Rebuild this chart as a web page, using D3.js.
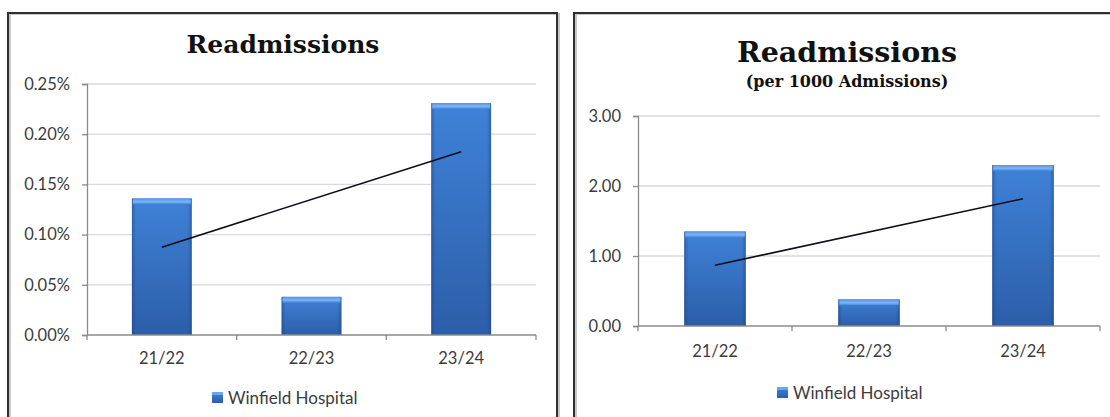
<!DOCTYPE html>
<html>
<head>
<meta charset="utf-8">
<script src="https://cdn.jsdelivr.net/npm/d3@7/dist/d3.min.js"></script>
<style>
  html, body { margin: 0; padding: 0; background: #fff; }
  svg { display: block; }
</style>
</head>
<body>
<svg id="chart" width="1110" height="417"></svg>
<script>
// Readmissions at Winfield Hospital, shown two ways side by side.
const categories = ["21/22", "22/23", "23/24"];
const seriesName = "Winfield Hospital";

// Readmission rate as a share of admissions (percent)
const readmitPct = [0.136, 0.038, 0.231];
const pctTicks = [0, 0.05, 0.10, 0.15, 0.20, 0.25];
const pctTickLabels = ["0.00%", "0.05%", "0.10%", "0.15%", "0.20%", "0.25%"];

// Readmissions per 1000 admissions
const readmitPer1000 = [1.35, 0.38, 2.30];
const rateTicks = [0, 1, 2, 3];
const rateTickLabels = ["0.00", "1.00", "2.00", "3.00"];

const svg = d3.select("#chart");
const defs = svg.append("defs");

// Excel-style bevelled blue bar fill
const vGrad = defs.append("linearGradient").attr("id", "barV")
  .attr("x1", 0).attr("y1", 0).attr("x2", 0).attr("y2", 1);
vGrad.append("stop").attr("offset", "0%").attr("stop-color", "#3f82d8");
vGrad.append("stop").attr("offset", "100%").attr("stop-color", "#2c5ea8");

const hGrad = defs.append("linearGradient").attr("id", "barH")
  .attr("x1", 0).attr("y1", 0).attr("x2", 1).attr("y2", 0);
hGrad.append("stop").attr("offset", "0%").attr("stop-color", "#1d3f73").attr("stop-opacity", 0.45);
hGrad.append("stop").attr("offset", "7%").attr("stop-color", "#1d3f73").attr("stop-opacity", 0.0);
hGrad.append("stop").attr("offset", "93%").attr("stop-color", "#1d3f73").attr("stop-opacity", 0.0);
hGrad.append("stop").attr("offset", "100%").attr("stop-color", "#1d3f73").attr("stop-opacity", 0.45);

const capGrad = defs.append("linearGradient").attr("id", "barCap")
  .attr("x1", 0).attr("y1", 0).attr("x2", 0).attr("y2", 1);
capGrad.append("stop").attr("offset", "0%").attr("stop-color", "#4f93e6");
capGrad.append("stop").attr("offset", "55%").attr("stop-color", "#7cb6f5");
capGrad.append("stop").attr("offset", "100%").attr("stop-color", "#3f82d8");

const TEXT = "#3c3c3c";
const SANS = "Lato, 'Open Sans', sans-serif";
const SERIF = "'DejaVu Serif', serif";

// Panel frames (open at the bottom, with a soft shadow edge)
function frame(left, right, top) {
  const g = svg.append("g");
  const pathD = right == null
    ? `M${left},417 V${top} H1110`
    : `M${left},417 V${top} H${right} V417`;
  g.append("path").attr("d", pathD).attr("transform", "translate(2,1)")
    .attr("fill", "none").attr("stroke", "#c8c8c8").attr("stroke-width", 2);
  g.append("path").attr("d", pathD)
    .attr("fill", "none").attr("stroke", "#2e2e2e").attr("stroke-width", 2);
}
frame(8, 557, 13);
frame(574, null, 13);

function drawChart(cfg) {
  const g = svg.append("g");

  const x = d3.scaleBand().domain(categories)
    .range([cfg.x0, cfg.x1]).paddingInner(0.6).paddingOuter(0.3);
  const xCat = d3.scaleBand().domain(categories).range([cfg.x0, cfg.x1]).padding(0);
  const y = d3.scaleLinear().domain([cfg.ticks[0], cfg.ticks[cfg.ticks.length - 1]])
    .range([cfg.yBottom, cfg.yTop]);

  // Titles
  g.append("text").attr("x", cfg.titleX).attr("y", cfg.titleY)
    .attr("text-anchor", "middle").attr("font-family", SERIF)
    .attr("font-weight", "bold").attr("font-size", cfg.titleSize)
    .attr("fill", "#111").text("Readmissions");
  if (cfg.subtitle) {
    g.append("text").attr("x", cfg.titleX).attr("y", cfg.subtitleY)
      .attr("text-anchor", "middle").attr("font-family", SERIF)
      .attr("font-weight", "bold").attr("font-size", cfg.subtitleSize)
      .attr("fill", "#111").text(cfg.subtitle);
  }

  // Horizontal gridlines
  g.append("g").selectAll("line")
    .data(cfg.ticks.filter(t => t !== 0))
    .join("line")
    .attr("x1", cfg.x0).attr("x2", cfg.x1)
    .attr("y1", d => y(d)).attr("y2", d => y(d))
    .attr("stroke", "#d9d9d9").attr("stroke-width", 1.3);

  // Value axis
  const yAxis = d3.axisLeft(y).tickValues(cfg.ticks).tickSize(5).tickPadding(cfg.tickPad)
    .tickFormat((d, i) => cfg.tickLabels[i]);
  const ya = g.append("g").attr("transform", `translate(${cfg.x0},0)`).call(yAxis);
  ya.select(".domain").attr("stroke", "#8a8a8a").attr("stroke-width", 1.3);
  ya.selectAll(".tick line").attr("stroke", "#8a8a8a").attr("stroke-width", 1.3);
  ya.selectAll(".tick text").attr("font-family", SANS).attr("font-size", cfg.fontSize)
    .attr("fill", TEXT);

  // Bars
  const bars = g.append("g");
  categories.forEach((c, i) => {
    const v = cfg.values[i];
    const bx = x(c), bw = x.bandwidth(), by = y(v), bh = y(0) - y(v);
    bars.append("rect").attr("x", bx).attr("y", by).attr("width", bw).attr("height", bh)
      .attr("fill", "url(#barV)");
    bars.append("rect").attr("x", bx).attr("y", by).attr("width", bw).attr("height", bh)
      .attr("fill", "url(#barH)");
    bars.append("rect").attr("x", bx + 1).attr("y", by).attr("width", bw - 2).attr("height", 6)
      .attr("fill", "url(#barCap)");
  });

  // Category axis with boundary tick marks
  const xa = g.append("g");
  xa.append("line").attr("x1", cfg.x0).attr("x2", cfg.x1)
    .attr("y1", y(0)).attr("y2", y(0))
    .attr("stroke", "#8a8a8a").attr("stroke-width", 1.3);
  const bounds = categories.map(c => xCat(c)).concat([xCat(categories[categories.length - 1]) + xCat.bandwidth()]);
  xa.selectAll("line.tk").data(bounds).join("line").attr("class", "tk")
    .attr("x1", d => d).attr("x2", d => d)
    .attr("y1", y(0)).attr("y2", y(0) + 5)
    .attr("stroke", "#8a8a8a").attr("stroke-width", 1.3);
  xa.selectAll("text").data(categories).join("text")
    .attr("x", d => xCat(d) + xCat.bandwidth() / 2)
    .attr("y", y(0) + cfg.catLabelOffset)
    .attr("text-anchor", "middle").attr("font-family", SANS)
    .attr("font-size", cfg.fontSize).attr("fill", TEXT).text(d => d);

  // Linear trendline (least squares over category index)
  const n = cfg.values.length;
  const idx = d3.range(1, n + 1);
  const mx = d3.mean(idx), my = d3.mean(cfg.values);
  const slope = d3.sum(idx.map((k, i) => (k - mx) * (cfg.values[i] - my))) /
                d3.sum(idx.map(k => (k - mx) * (k - mx)));
  const icpt = my - slope * mx;
  const trend = categories.map((c, i) => [xCat(c) + xCat.bandwidth() / 2, y(icpt + slope * (i + 1))]);
  g.append("path")
    .attr("d", d3.line()([trend[0], trend[n - 1]]))
    .attr("fill", "none").attr("stroke", "#0d0d1a").attr("stroke-width", 1.6);

  // Legend
  const lg = g.append("g").attr("transform", `translate(${cfg.legendX},${cfg.legendY})`);
  lg.append("rect").attr("x", 0).attr("y", -6).attr("width", 11).attr("height", 11)
    .attr("fill", "url(#barV)");
  lg.append("rect").attr("x", 0).attr("y", -6).attr("width", 11).attr("height", 3)
    .attr("fill", "#6aa6ee");
  lg.append("text").attr("x", 16).attr("y", 0).attr("dy", "0.35em")
    .attr("font-family", SANS).attr("font-size", cfg.legendSize)
    .attr("fill", TEXT).text(seriesName);
}

drawChart({
  values: readmitPct, ticks: pctTicks, tickLabels: pctTickLabels,
  x0: 87, x1: 536, yTop: 84, yBottom: 335, tickPad: 12,
  titleX: 283, titleY: 53, titleSize: 25,
  fontSize: 16.5, legendSize: 17, catLabelOffset: 29,
  legendX: 212, legendY: 398
});

drawChart({
  values: readmitPer1000, ticks: rateTicks, tickLabels: rateTickLabels,
  x0: 638, x1: 1100, yTop: 116, yBottom: 326, tickPad: 12,
  titleX: 847, titleY: 62, titleSize: 28.5,
  subtitle: "(per 1000 Admissions)", subtitleY: 87, subtitleSize: 16,
  fontSize: 16.5, legendSize: 17, catLabelOffset: 31,
  legendX: 777, legendY: 393
});
</script>
</body>
</html>
